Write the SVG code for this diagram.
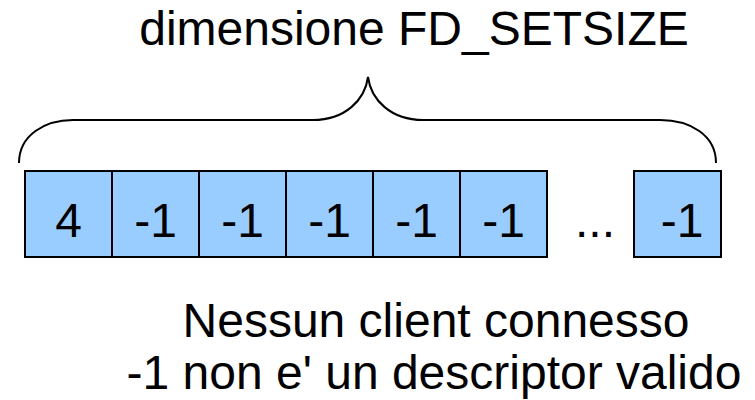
<svg xmlns="http://www.w3.org/2000/svg" width="755" height="400" viewBox="0 0 755 400">
  <style>
    .cell { fill: #99ccff; stroke: #000; stroke-width: 2; }
    .t { font-family: "Liberation Sans", Arial, sans-serif; font-size: 48px; fill: #000; }
    .mid { text-anchor: middle; }
    .brace { fill: none; stroke: #000; stroke-width: 2; }
  </style>
  <rect width="755" height="400" fill="#fff"/>

  <text class="t mid" x="414" y="45">dimensione FD_SETSIZE</text>

  <g id="connectors">
    <path class="brace" d="M19,163 C19,135 45,120 73,120 L313,120 C345,120 365,100 368,77 C371,100 391,120 423,120 L660,120 C690,120 716,135 716,163"/>
  </g>

  <g id="cell0"><rect class="cell" x="25" y="171" width="87" height="86"/><text class="t mid" x="68.5" y="237">4</text></g>
  <g id="cell1"><rect class="cell" x="112" y="171" width="87" height="86"/><text class="t mid" x="155.5" y="237">-1</text></g>
  <g id="cell2"><rect class="cell" x="199" y="171" width="87" height="86"/><text class="t mid" x="242.5" y="237">-1</text></g>
  <g id="cell3"><rect class="cell" x="286" y="171" width="87" height="86"/><text class="t mid" x="329.5" y="237">-1</text></g>
  <g id="cell4"><rect class="cell" x="373" y="171" width="87" height="86"/><text class="t mid" x="416.5" y="237">-1</text></g>
  <g id="cell5"><rect class="cell" x="460" y="171" width="87" height="86"/><text class="t mid" x="503.5" y="237">-1</text></g>
  <g id="ellipsis"><text class="t mid" x="595" y="237">...</text></g>
  <g id="cellN"><rect class="cell" x="634" y="171" width="87" height="86"/><text class="t mid" x="682" y="237">-1</text></g>

  <text class="t mid" x="436" y="337">Nessun client connesso</text>
  <text class="t mid" x="434" y="389">-1 non e' un descriptor valido</text>
</svg>
